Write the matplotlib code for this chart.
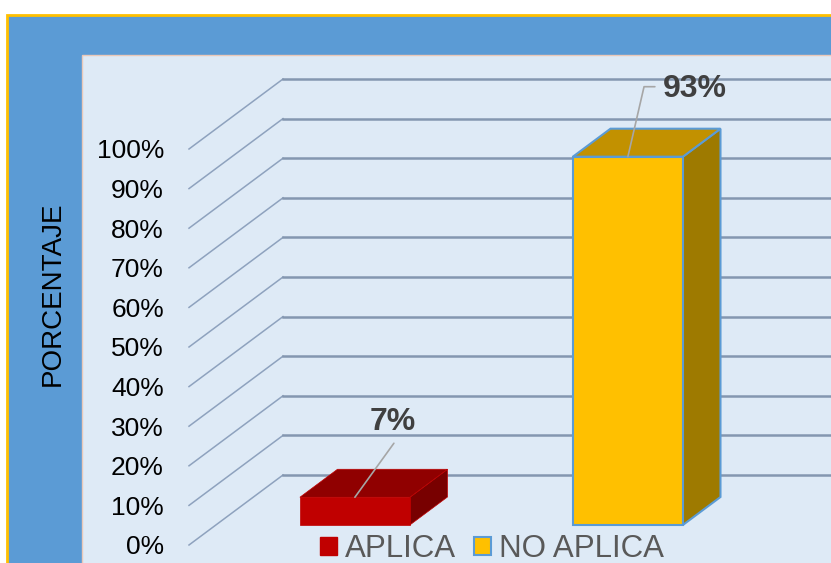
import matplotlib
matplotlib.use('Agg')
import matplotlib.pyplot as plt
from matplotlib.patches import Polygon, Rectangle, Patch

plt.rcParams['font.family'] = ['Liberation Sans', 'DejaVu Sans']

categories = ['APLICA', 'NO APLICA']
values = [7, 93]
labels = ['7%', '93%']
ticks = [0, 10, 20, 30, 40, 50, 60, 70, 80, 90, 100]
tick_labels = ['0%', '10%', '20%', '30%', '40%', '50%', '60%', '70%', '80%', '90%', '100%']

front_colors = ['#C00000', '#FFC000']
top_colors = ['#900000', '#C29100']
side_colors = ['#780000', '#9E7A00']
edge_colors = ['#C00000', '#5B9BD5']

W, H = 831, 563
fig = plt.figure(figsize=(W / 100, H / 100), dpi=100)
fig.patch.set_facecolor('white')

# backgrounds (figure pixels)
bg = fig.add_axes([0, 0, 1, 1])
bg.set_xlim(0, W)
bg.set_ylim(H, 0)
bg.axis('off')
bg.add_patch(Rectangle((7, 15), W + 10, H, facecolor='#5B9BD5', edgecolor='#FFC000', lw=2))
bg.add_patch(Rectangle((82, 55), W, H, facecolor='#DEEAF6', edgecolor='#EAC8B8', lw=1))

# front plane axes: x in category units, y in percent
px_unit = 273.0
x_left_px, y0_px, y100_px = 189, 545, 149
ax = fig.add_axes([x_left_px / W, (H - y0_px) / H, (W - x_left_px) / W, (y0_px - y100_px) / H])
ax.patch.set_alpha(0)
xmin = (x_left_px - 328) / px_unit
xmax = (W - 328) / px_unit
ax.set_xlim(xmin, xmax)
ax.set_ylim(0, 100)
for s in ax.spines.values():
    s.set_visible(False)
ax.set_xticks([])
ax.set_yticks(ticks)
ax.set_yticklabels(tick_labels, fontsize=19, color='black')
ax.tick_params(axis='y', length=0, pad=18)

# oblique depth
DX = 94 / px_unit
DY = 70 / 3.96

def proj(x, y, d):
    return (x + d * DX, y + d * DY)

# gridlines: side wall diagonal + back wall horizontal
for t in ticks:
    p0 = proj(xmin, t, 0)
    p1 = proj(xmin, t, 1)
    ax.plot([p0[0], p1[0]], [p0[1], p1[1]], color='#8EA2BE', lw=1.1, clip_on=False, zorder=1)
    ax.plot([p1[0], xmax], [p1[1], p1[1]], color='#8497B0', lw=1.8, clip_on=False, zorder=1)

# bars
half_w = 110 / px_unit / 2
d0, d1 = 0.286, 0.686
for i, v in enumerate(values):
    xl, xr = i - half_w, i + half_w
    front = [proj(xl, 0, d0), proj(xr, 0, d0), proj(xr, v, d0), proj(xl, v, d0)]
    top = [proj(xl, v, d0), proj(xr, v, d0), proj(xr, v, d1), proj(xl, v, d1)]
    side = [proj(xr, 0, d0), proj(xr, 0, d1), proj(xr, v, d1), proj(xr, v, d0)]
    ec = edge_colors[i]
    lw = 1.5 if i == 1 else 0.5
    ax.add_patch(Polygon(side, closed=True, facecolor=side_colors[i], edgecolor=ec, lw=lw, zorder=3, clip_on=False))
    ax.add_patch(Polygon(top, closed=True, facecolor=top_colors[i], edgecolor=ec, lw=lw, zorder=3, clip_on=False))
    ax.add_patch(Polygon(front, closed=True, facecolor=front_colors[i], edgecolor=ec, lw=lw, zorder=4, clip_on=False))

# data labels with leader lines
anchor = [proj(0, values[0], d0), proj(1, values[1], d0)]
ax.annotate('', xy=anchor[0], xytext=(39, 54), textcoords='offset pixels',
            arrowprops=dict(arrowstyle='-', color='#A6A6A6', lw=1.2, shrinkA=0, shrinkB=0), zorder=5)
ax.annotate(labels[0], xy=anchor[0], xytext=(38, 75), textcoords='offset pixels',
            ha='center', va='center', fontsize=23, fontweight='bold', color='#404040', zorder=6)
ax.annotate('', xy=anchor[1], xytext=(27, 70), textcoords='offset pixels',
            arrowprops=dict(arrowstyle='-', color='#A6A6A6', lw=1.2, shrinkA=0, shrinkB=0,
                            connectionstyle='angle,angleA=0,angleB=77,rad=0'), zorder=5)
ax.annotate(labels[1], xy=anchor[1], xytext=(67, 68), textcoords='offset pixels',
            ha='center', va='center', fontsize=23, fontweight='bold', color='#404040', zorder=6)

# y label
ax.set_ylabel('PORCENTAJE', fontsize=20, color='black')
ax.yaxis.set_label_coords((66 - x_left_px) / (W - x_left_px), (y0_px - 294) / (y0_px - y100_px))

# legend
handles = [Patch(facecolor=front_colors[0], edgecolor=front_colors[0]),
           Patch(facecolor=front_colors[1], edgecolor='#5B9BD5', lw=1.5)]
leg = fig.legend(handles, categories, loc='center', bbox_to_anchor=(492 / W, (H - 549) / H),
                 ncol=2, frameon=False, fontsize=22.5, handlelength=0.55, handleheight=0.55,
                 handletextpad=0.26, columnspacing=0.55, borderpad=0)
for t in leg.get_texts():
    t.set_color('#595959')

fig.savefig('out.png', dpi=100)
